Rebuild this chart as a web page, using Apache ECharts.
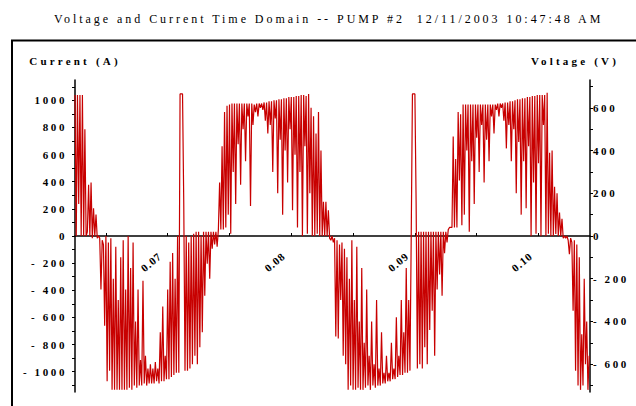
<!DOCTYPE html>
<html><head><meta charset="utf-8">
<script src="https://cdn.jsdelivr.net/npm/echarts@6/dist/echarts.min.js"></script>
<style>html,body{margin:0;padding:0;background:#fff}#c{width:636px;height:406px}</style>
</head><body><div id="c"></div>
<script>
const titleText = 'Voltage and Current Time Domain -- PUMP #2  12/11/2003 10:47:48 AM';
const leftAxisName = 'Current (A)';
const rightAxisName = 'Voltage (V)';
const timeTickValues = [0.065, 0.07, 0.075, 0.08, 0.085, 0.09, 0.095, 0.10];
const timeLabelValues = [0.07, 0.08, 0.09, 0.10];
const currentLabelValues = [-1000, -800, -600, -400, -200, 0, 200, 400, 600, 800, 1000];
const currentTickValues = [-1100,-1000,-900,-800,-700,-600,-500,-400,-300,-200,-100,0,100,200,300,400,500,600,700,800,900,1000,1100];
const voltageLabelValues = [-600, -400, -200, 0, 200, 400, 600];
const voltageTickValues = [-700,-600,-500,-400,-300,-200,-100,0,100,200,300,400,500,600,700];
// sampled waveform: first sample time and sample period (s)
const sampleStart = 0.0625;
const samplePeriod = 0.0001;
// voltage samples (V)
const voltage = [
 660,0,660,150,660,0,660,0,500,0,20,240,0,250,-10,130,0,100,-10,0,
 -10,-250,-20,-40,-420,0,-680,-30,-630,-10,-720,-200,-720,-50,-720,-300,-720,-100,-720,-20,
 -720,-250,-720,0,-710,-150,-720,-30,-700,-400,-710,-250,-700,-580,-700,-210,-690,-560,-700,-620,
 -690,-600,-690,-620,-690,-590,-680,-620,-690,-450,-680,-330,-680,-560,-670,-250,-670,-120,-660,-80,
 -650,-200,-640,0,-640,665,665,665,150,-630,0,-630,-30,-620,0,-600,10,-560,20,-600,
 20,-520,0,-450,20,-280,20,-130,20,-200,20,-60,20,-40,20,-50,
 30,250,30,420,30,580,40,610,100,615,10,620,300,620,150,620,430,620,240,620,
 500,620,350,620,560,620,140,620,520,615,580,620,560,620,600,620,590,625,540,625,
 480,630,520,630,300,635,550,635,200,640,450,640,100,645,400,645,250,650,500,650,
 120,650,380,655,40,655,300,660,0,660,420,655,10,665,200,600,0,560,0,480,
 10,580,0,400,0,160,0,160,0,120,-10,
 -20,0,-30,-10,-470,-20,-480,-40,-300,-30,-560,-60,-600,-100,-720,-200,-700,-20,-720,-300,
 -720,-50,-710,-400,-720,-150,-720,-500,-710,-250,-700,-560,-720,-400,-700,-600,-710,-300,-700,-620,
 -700,-450,-690,-640,-690,-560,-680,-640,-680,-500,-670,-620,-670,-380,-660,-560,-650,-300,-650,-450,
 -640,-150,-640,-300,-630,-20,665,665,665,150,-620,20,-600,20,-620,20,-520,20,-600,20,
 -440,20,-350,20,-560,20,-250,20,-180,20,-280,20,-80,20,-30,30,40,
 40,40,465,40,360,40,580,260,570,50,615,100,615,400,615,20,615,350,615,150,
 615,460,615,300,615,520,615,250,615,450,615,350,615,560,615,480,615,590,620,560,
 620,600,620,540,625,410,625,520,630,350,630,500,635,200,640,440,640,100,645,350,
 645,130,650,420,650,0,655,250,655,10,660,340,660,0,660,520,660,0,670,10,
 390,0,400,0,230,10,200,0,110,0,80,-10,0,-10,0,
 -20,-85,-10,-30,-350,-20,-630,-40,-700,-100,-720,-460,-700,-200,-600,-400,-720,-560
];
const seriesData = voltage.map((v, i) => [sampleStart + i * samplePeriod, v]);

const serif = '"Liberation Serif", "DejaVu Serif", serif';
const neg = v => v < 0 ? '- ' + (-v) : String(v);
const gridTop = 80, gridBottom = 14, chartH = 406;
const gridH = chartH - gridTop - gridBottom;
const chart = echarts.init(document.getElementById('c'), null, {renderer: 'svg'});
chart.setOption({
  animation: false,
  backgroundColor: '#ffffff',
  title: {text: titleText, left: 49, top: 8,
    textStyle: {fontFamily: serif, fontSize: 12, fontWeight: 'normal', color: '#000'}},
  graphic: [{type: 'rect', shape: {x: 12, y: 40.5, width: 660, height: 420},
    style: {fill: 'none', stroke: '#000', lineWidth: 2}, silent: true}],
  grid: {left: 75, right: 46, top: gridTop, bottom: gridBottom, outerBoundsMode: 'none', containLabel: false},
  xAxis: {type: 'value', min: 0.0625, max: 0.104167, position: 'bottom', offset: -gridH / 2,
    axisLine: {onZero: false, lineStyle: {color: '#000', width: 1.5}},
    axisTick: {customValues: timeTickValues, inside: true, length: 3, lineStyle: {color: '#000'}},
    axisLabel: {customValues: timeLabelValues, formatter: v => v.toFixed(2), rotate: 40,
      margin: 12, padding: [0, 10, 0, 0],
      fontFamily: serif, fontSize: 11, fontWeight: 'bold', color: '#000'},
    splitLine: {show: false}},
  yAxis: [
    {type: 'value', min: -1150, max: 1150, position: 'left',
      name: leftAxisName, nameLocation: 'end', nameGap: 14,
      nameTextStyle: {fontFamily: serif, fontSize: 11, fontWeight: 'bold', color: '#000', align: 'center'},
      axisLine: {show: true, onZero: false, lineStyle: {color: '#000', width: 1.5}},
      axisTick: {customValues: currentTickValues, length: 3, lineStyle: {color: '#000'}},
      axisLabel: {customValues: currentLabelValues, formatter: neg, margin: 8,
        fontFamily: serif, fontSize: 11, fontWeight: 'bold', color: '#000'},
      splitLine: {show: false}},
    {type: 'value', min: -730, max: 730, position: 'right',
      name: rightAxisName, nameLocation: 'end', nameGap: 14,
      nameTextStyle: {fontFamily: serif, fontSize: 11, fontWeight: 'bold', color: '#000', align: 'center', padding: [0, 30, 0, 0]},
      axisLine: {show: true, onZero: false, lineStyle: {color: '#000', width: 1.5}},
      axisTick: {customValues: voltageTickValues, length: 3, lineStyle: {color: '#000'}},
      axisLabel: {customValues: voltageLabelValues, formatter: neg, margin: 3,
        fontFamily: serif, fontSize: 11, fontWeight: 'bold', color: '#000'},
      splitLine: {show: false}}
  ],
  series: [{type: 'line', yAxisIndex: 1, data: seriesData, showSymbol: false,
    lineStyle: {color: '#c80000', width: 1.2}, silent: true}]
});
function spaceText() {
  document.querySelectorAll('#c text').forEach(t => {
    const s = t.textContent;
    let ls = '2.6px';
    if (s === titleText) ls = '2.95px';
    else if (s === leftAxisName || s === rightAxisName) ls = '3.2px';
    else if (/^0\.\d\d$/.test(s)) ls = '1px';
    t.style.letterSpacing = ls;
  });
}
chart.on('finished', spaceText);
spaceText();
</script></body></html>
